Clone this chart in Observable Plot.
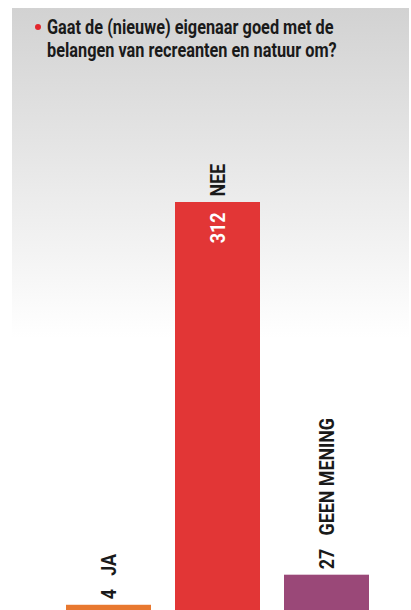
<!DOCTYPE html>
<html><head><meta charset="utf-8">
<script src="https://cdn.jsdelivr.net/npm/d3@7"></script>
<script src="https://cdn.jsdelivr.net/npm/@observablehq/plot@0.6"></script>
<style>
html,body{margin:0;padding:0;background:#fff;}
#wrap{position:relative;width:411px;height:610px;overflow:hidden;}
#bg{position:absolute;left:12px;top:8px;width:397px;height:330px;background:linear-gradient(#d2d2d2,#ffffff);}
#title{position:absolute;left:47px;top:17px;font-family:Roboto,"DejaVu Sans Condensed",sans-serif;font-weight:bold;font-size:19.5px;line-height:22.5px;color:#1a1a1a;margin:0;white-space:nowrap;transform-origin:0 0;}
#bullet{position:absolute;left:35px;top:24px;width:6px;height:6px;border-radius:50%;background:#e3262c;}
#chart{position:absolute;left:0;top:70px;}
</style></head>
<body>
<div id="wrap">
  <div id="bg"></div>
  <div id="bullet"></div>
  <div id="title">Gaat de (nieuwe) eigenaar goed met de<br>belangen van recreanten en natuur om?</div>
  <div id="chart"></div>
</div>
<script>
const categories = ["JA", "NEE", "GEEN MENING"];
const values = [4, 312, 27];
const colors = ["#e8782f", "#e23636", "#9a4878"];
const valueInside = [false, true, false];

const data = categories.map((c, i) => ({c, v: values[i], color: colors[i], inside: valueInside[i]}));
const FONT = 'Roboto,"DejaVu Sans Condensed",sans-serif';

const chart = Plot.plot({
  width: 411,
  height: 540,
  marginLeft: 40,
  marginRight: 17,
  marginTop: 0,
  marginBottom: 0,
  style: {background: "transparent", overflow: "visible"},
  x: {domain: categories, padding: 0.224, axis: null},
  y: {domain: [0, 312], range: [540, 132], axis: null},
  marks: [
    Plot.barY(data, {x: "c", y: "v", fill: "color"}),
    Plot.text(data, {
      x: "c", y: "v",
      text: d => d.inside ? d.c : `${d.v}   ${d.c}`,
      rotate: -90, textAnchor: "start", lineAnchor: "middle", dy: -6,
      fontSize: 21, fontWeight: "bold", fontFamily: FONT, fill: "#1a1a1a"
    }),
    Plot.text(data.filter(d => d.inside), {
      x: "c", y: "v",
      text: d => String(d.v),
      rotate: -90, textAnchor: "end", lineAnchor: "middle", dy: 10,
      fontSize: 21, fontWeight: "bold", fontFamily: FONT, fill: "white"
    })
  ]
});
document.getElementById("chart").appendChild(chart);
// condensed look: squeeze glyphs along the reading direction
chart.querySelectorAll("text").forEach(t => {
  const tr = t.getAttribute("transform") || "";
  t.setAttribute("transform", tr + " scale(0.85,1)");
});
const title = document.getElementById("title");
const w = title.scrollWidth;
title.style.transform = `scaleX(${290 / w})`;
</script>
</body></html>
